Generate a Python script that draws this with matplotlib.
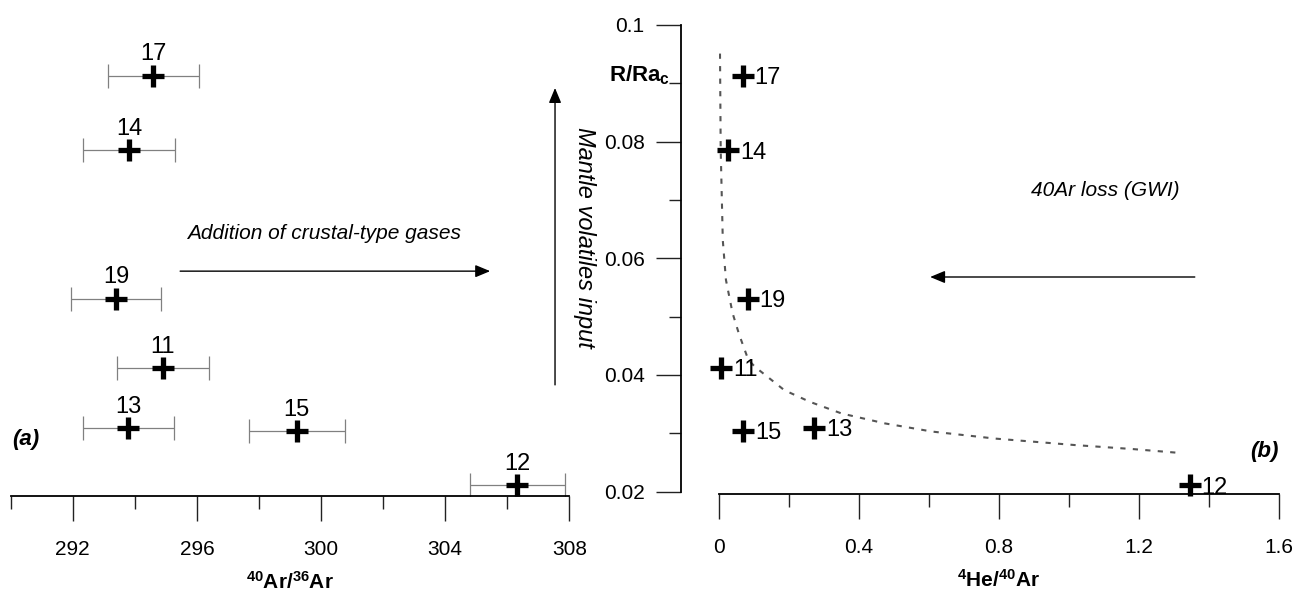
import matplotlib.pyplot as plt
from matplotlib.ticker import MultipleLocator, FuncFormatter

plt.rcParams['font.family'] = ['Liberation Sans', 'DejaVu Sans']
plt.rcParams['mathtext.default'] = 'regular'

# === Sample data ===
samples = ['17', '14', '19', '11', '13', '15', '12']
ar40_ar36 = [294.60, 293.82, 293.39, 294.90, 293.79, 299.22, 306.33]
ar40_ar36_err = [1.47, 1.48, 1.46, 1.48, 1.47, 1.54, 1.53]
r_rac = [0.0913, 0.0785, 0.0531, 0.0412, 0.0309, 0.0304, 0.0211]
he4_ar40 = [0.067, 0.026, 0.081, 0.006, 0.271, 0.068, 1.345]

# mixing / 40Ar loss trend
trend_he = [0.002, 0.004, 0.010, 0.019, 0.038, 0.057, 0.083, 0.102, 0.186, 0.259,
            0.350, 0.474, 0.609, 0.789, 1.015, 1.183, 1.325]
trend_r = [0.0951, 0.0786, 0.0631, 0.0563, 0.0506, 0.0469, 0.0426, 0.0414, 0.0374, 0.0354,
           0.0334, 0.0317, 0.0303, 0.0291, 0.0280, 0.0273, 0.0266]

W, H = 1299, 597
fig = plt.figure(figsize=(W / 100, H / 100), dpi=100)

def fx(x):
    return x / W

def fy(y):
    return 1 - y / H

ax1 = fig.add_axes([fx(10.7), fy(496), 558.6 / W, 471 / H])
ax2 = fig.add_axes([fx(719.3), fy(494), 559.4 / W, 469 / H])

tick_kw = dict(direction='out', width=1.0, color='#222222', labelsize=15)

# === (a) 40Ar/36Ar ===
ax1.set_xlim(290, 308)
ax1.set_ylim(0.01925, 0.1)
for s in ['left', 'right', 'top']:
    ax1.spines[s].set_visible(False)
ax1.spines['bottom'].set_linewidth(1.3)
ax1.set_yticks([])
ax1.xaxis.set_major_locator(MultipleLocator(4))
ax1.xaxis.set_minor_locator(MultipleLocator(2))
ax1.tick_params(axis='x', which='major', length=18, pad=14, **tick_kw)
ax1.tick_params(axis='x', which='minor', length=9.5, **tick_kw)
ax1.set_xlabel(r'$^{40}$Ar/$^{36}$Ar', fontsize=15, fontweight='bold', labelpad=8)

ax1.errorbar(ar40_ar36, r_rac, xerr=ar40_ar36_err, fmt='none', ecolor='#808080',
             elinewidth=0.9, capsize=8.3, capthick=0.9, zorder=2)
ax1.plot(ar40_ar36, r_rac, '+', color='black', ms=15.5, mew=3.8, zorder=3, clip_on=False)
for name, x, y in zip(samples, ar40_ar36, r_rac):
    ax1.annotate(name, (x, y), xytext=(0, 11), textcoords='offset points',
                 ha='center', va='baseline', fontsize=17, annotation_clip=False)

arrow_kw = dict(arrowstyle='-|>,head_length=0.6,head_width=0.25', color='black',
                lw=1.0, mutation_scale=15, shrinkA=0, shrinkB=0)
ax1.annotate('', xy=(305.45, 0.0578), xytext=(295.46, 0.0578), arrowprops=arrow_kw,
             annotation_clip=False)
ax1.text(295.68, 0.0643, 'Addition of crustal-type gases', fontsize=15, style='italic',
         ha='left', va='center')
ax1.annotate('', xy=(307.54, 0.0892), xytext=(307.54, 0.0383), arrowprops=arrow_kw,
             annotation_clip=False)
ax1.text(308.5, 0.0635, 'Mantle volatiles input', fontsize=17, style='italic',
         rotation=-90, ha='center', va='center', clip_on=False)

# === (b) 4He/40Ar ===
ax2.set_xlim(0, 1.6)
ax2.set_ylim(0.0196, 0.1)
for s in ['right', 'top']:
    ax2.spines[s].set_visible(False)
ax2.spines['bottom'].set_linewidth(1.3)
ax2.spines['left'].set_linewidth(1.3)
ax2.spines['left'].set_position(('outward', 27.8))
ax2.spines['left'].set_bounds(0.02, 0.1)
ax2.xaxis.set_major_locator(MultipleLocator(0.4))
ax2.xaxis.set_minor_locator(MultipleLocator(0.2))
ax2.yaxis.set_major_locator(MultipleLocator(0.02))
ax2.yaxis.set_minor_locator(MultipleLocator(0.01))
fmt = FuncFormatter(lambda v, _: f'{v:g}')
ax2.xaxis.set_major_formatter(fmt)
ax2.yaxis.set_major_formatter(fmt)
ax2.tick_params(axis='x', which='major', length=18, pad=14, **tick_kw)
ax2.tick_params(axis='y', which='major', length=18, pad=8, **tick_kw)
ax2.tick_params(which='minor', length=9, **tick_kw)
ax2.set_xlabel(r'$^{4}$He/$^{40}$Ar', fontsize=15, fontweight='bold', labelpad=8)

ax2.plot(trend_he, trend_r, color='#555555', lw=1.5, linestyle=(0, (2.5, 3.5)), zorder=1)
ax2.plot(he4_ar40, r_rac, '+', color='black', ms=15.5, mew=3.8, zorder=3, clip_on=False)
for name, x, y in zip(samples, he4_ar40, r_rac):
    ax2.annotate(name, (x, y), xytext=(8.5, -6), textcoords='offset points',
                 ha='left', va='baseline', fontsize=17, annotation_clip=False)

ax2.annotate('', xy=(0.603, 0.0568), xytext=(1.36, 0.0568), arrowprops=arrow_kw,
             annotation_clip=False)
ax2.text(1.103, 0.0717, '40Ar loss (GWI)', fontsize=15, style='italic',
         ha='center', va='center')

fig.text(fx(670), fy(75), r'R/Ra$_c$', fontsize=16, fontweight='bold', ha='right', va='center')
fig.text(fx(26), fy(440), '(a)', fontsize=16, fontweight='bold', style='italic',
         ha='center', va='center')
fig.text(fx(1264), fy(452), '(b)', fontsize=16, fontweight='bold', style='italic',
         ha='center', va='center')

fig.savefig('out.png', dpi=100)
